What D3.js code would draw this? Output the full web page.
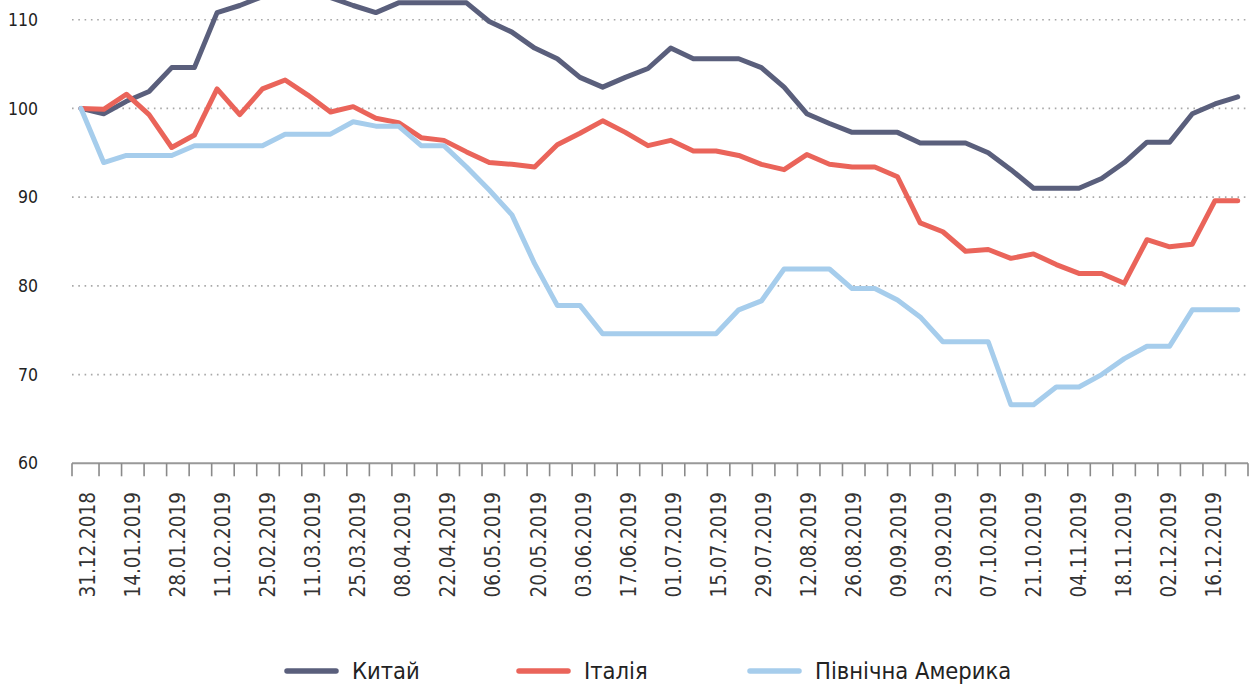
<!DOCTYPE html>
<html>
<head>
<meta charset="utf-8">
<script src="https://cdn.jsdelivr.net/npm/d3@7"></script>
<style>
  body { margin: 0; background: #fff; }
  svg { display: block; font-family: "Liberation Sans Narrow", "DejaVu Sans Condensed", sans-serif; }
</style>
</head>
<body>
<div id="chart"></div>
<script>
// weekly dates, 31.12.2018 .. 23.12.2019
const dates = [
  "31.12.2018","07.01.2019","14.01.2019","21.01.2019","28.01.2019","04.02.2019","11.02.2019","18.02.2019",
  "25.02.2019","04.03.2019","11.03.2019","18.03.2019","25.03.2019","01.04.2019","08.04.2019","15.04.2019",
  "22.04.2019","29.04.2019","06.05.2019","13.05.2019","20.05.2019","27.05.2019","03.06.2019","10.06.2019",
  "17.06.2019","24.06.2019","01.07.2019","08.07.2019","15.07.2019","22.07.2019","29.07.2019","05.08.2019",
  "12.08.2019","19.08.2019","26.08.2019","02.09.2019","09.09.2019","16.09.2019","23.09.2019","30.09.2019",
  "07.10.2019","14.10.2019","21.10.2019","28.10.2019","04.11.2019","11.11.2019","18.11.2019","25.11.2019",
  "02.12.2019","09.12.2019","16.12.2019","23.12.2019"
];

const china = [
  100, 99.4, 100.8, 101.9, 104.6, 104.6, 110.8, 111.6, 112.6, 113.5, 113.3, 112.5, 111.6, 110.8, 111.9, 111.9,
  111.9, 111.9, 109.8, 108.6, 106.8, 105.6, 103.5, 102.4, 103.5, 104.5, 106.8, 105.6, 105.6, 105.6, 104.6, 102.4,
  99.4, 98.3, 97.3, 97.3, 97.3, 96.1, 96.1, 96.1, 95.0, 93.1, 91.0, 91.0, 91.0, 92.1, 93.9, 96.2,
  96.2, 99.4, 100.5, 101.3
];

const italy = [
  100, 99.9, 101.6, 99.3, 95.6, 97.0, 102.2, 99.3, 102.2, 103.2, 101.5, 99.6, 100.2, 98.9, 98.4, 96.7,
  96.4, 95.1, 93.9, 93.7, 93.4, 95.9, 97.2, 98.6, 97.3, 95.8, 96.4, 95.2, 95.2, 94.7, 93.7, 93.1,
  94.8, 93.7, 93.4, 93.4, 92.3, 87.1, 86.1, 83.9, 84.1, 83.1, 83.6, 82.4, 81.4, 81.4, 80.3, 85.2,
  84.4, 84.7, 89.6, 89.6
];

const northAmerica = [
  100, 93.9, 94.7, 94.7, 94.7, 95.8, 95.8, 95.8, 95.8, 97.1, 97.1, 97.1, 98.5, 98.0, 98.0, 95.8,
  95.8, 93.4, 90.8, 88.0, 82.5, 77.8, 77.8, 74.6, 74.6, 74.6, 74.6, 74.6, 74.6, 77.3, 78.3, 81.9,
  81.9, 81.9, 79.7, 79.7, 78.4, 76.5, 73.7, 73.7, 73.7, 66.6, 66.6, 68.6, 68.6, 70.0, 71.8, 73.2,
  73.2, 77.3, 77.3, 77.3
];

const yTicks = [60, 70, 80, 90, 100, 110];

const series = [
  { name: "Китай", values: china, color: "#5a5f7c" },
  { name: "Італія", values: italy, color: "#ea645a" },
  { name: "Північна Америка", values: northAmerica, color: "#a6cdec" }
];

const W = 1250, H = 684;
const axisLeft = 72, axisRight = 1248;

const svg = d3.select("#chart").append("svg")
    .attr("width", W)
    .attr("height", H);

const y = d3.scaleLinear()
    .domain([60, 110])
    .range([463.3, 19.7]);

// points
const x = d3.scaleLinear()
    .domain([0, dates.length - 1])
    .range([81, 1237.7]);

// category bands for ticks / labels
const xb = d3.scaleBand()
    .domain(d3.range(dates.length))
    .range([76.5, axisRight]);

// grid
svg.append("g")
  .selectAll("line")
  .data(yTicks.filter(d => d > 60))
  .enter().append("line")
    .attr("x1", axisLeft)
    .attr("x2", axisRight)
    .attr("y1", d => y(d))
    .attr("y2", d => y(d))
    .attr("stroke", "#a8a8a8")
    .attr("stroke-width", 1.6)
    .attr("stroke-dasharray", "1.6,4.7");

// y labels
svg.append("g")
  .selectAll("text")
  .data(yTicks)
  .enter().append("text")
    .attr("x", 38)
    .attr("y", d => y(d))
    .attr("dy", "0.35em")
    .attr("text-anchor", "end")
    .attr("font-size", 17.5)
    .attr("fill", "#222")
    .text(d => d);

// x axis
const xa = svg.append("g");
xa.append("line")
    .attr("x1", axisLeft)
    .attr("x2", axisRight)
    .attr("y1", y(60))
    .attr("y2", y(60))
    .attr("stroke", "#999")
    .attr("stroke-width", 2);

const tickPos = [axisLeft].concat(d3.range(1, dates.length + 1).map(i => xb(0) + i * xb.step()));
xa.selectAll(".tick")
  .data(tickPos)
  .enter().append("line")
    .attr("class", "tick")
    .attr("x1", d => d)
    .attr("x2", d => d)
    .attr("y1", y(60))
    .attr("y2", y(60) + 13)
    .attr("stroke", "#8a8a8a")
    .attr("stroke-width", 1.6);

xa.selectAll(".lbl")
  .data(dates.map((d, i) => ({ d, i })).filter(o => o.i % 2 === 0))
  .enter().append("text")
    .attr("class", "lbl")
    .attr("transform", o => "translate(" + (xb(o.i) + xb.bandwidth() / 2) + "," + 492 + ") rotate(-90)")
    .attr("dy", "0.35em")
    .attr("text-anchor", "end")
    .attr("font-size", 20.5)
    .attr("fill", "#333")
    .text(o => o.d);

// lines
const line = d3.line()
    .x((d, i) => x(i))
    .y(d => y(d));

svg.append("g")
  .selectAll("path")
  .data(series)
  .enter().append("path")
    .attr("d", s => line(s.values))
    .attr("fill", "none")
    .attr("stroke", s => s.color)
    .attr("stroke-width", 5)
    .attr("stroke-linejoin", "round")
    .attr("stroke-linecap", "round");

// legend
const legendX = [287, 519, 750];
const lg = svg.append("g");
series.forEach((s, i) => {
  lg.append("line")
    .attr("x1", legendX[i])
    .attr("x2", legendX[i] + 49)
    .attr("y1", 671)
    .attr("y2", 671)
    .attr("stroke", s.color)
    .attr("stroke-width", 5.5)
    .attr("stroke-linecap", "round");
  lg.append("text")
    .attr("x", legendX[i] + 65)
    .attr("y", 679)
    .attr("font-size", 23.5)
    .attr("fill", "#222")
    .text(s.name);
});
</script>
</body>
</html>
